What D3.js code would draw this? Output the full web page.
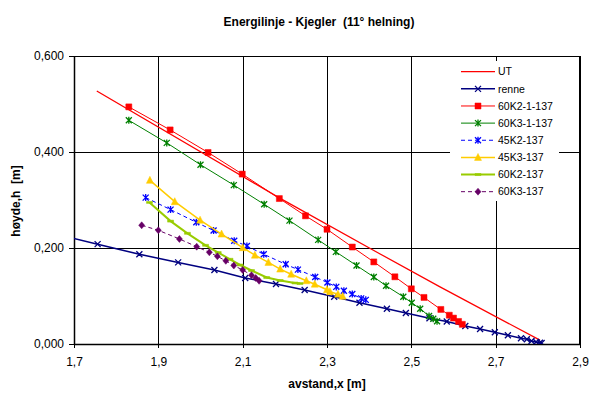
<!DOCTYPE html>
<html><head><meta charset="utf-8">
<script src="https://cdn.jsdelivr.net/npm/d3@7"></script>
<style>
body{margin:0;background:#fff;}
text{font-family:"Liberation Sans",Arial,sans-serif;white-space:pre;}
</style></head>
<body>
<svg id="c" width="591" height="394"></svg>
<script>
// ---------- data ----------
const title = "Energilinje - Kjegler  (11° helning)";
const xTitle = "avstand,x [m]";
const yTitle = "høyde,h  [m]";
const xTicks = [1.7, 1.9, 2.1, 2.3, 2.5, 2.7, 2.9];
const yTicks = [0, 0.2, 0.4, 0.6];
const seriesNames = ["UT", "renne", "60K2-1-137", "60K3-1-137", "45K2-137", "45K3-137", "60K2-137", "60K3-137"];

const utX = [1.754, 2.189, 2.426, 2.568, 2.805];
const utY = [0.527, 0.3035, 0.1875, 0.119, 0.008];

const renneX = [1.65, 1.756, 1.855, 1.947, 2.033, 2.106, 2.179, 2.247, 2.317, 2.377, 2.442, 2.487, 2.543, 2.584, 2.628, 2.663, 2.698, 2.729, 2.760, 2.774, 2.785, 2.796, 2.805, 2.809];
const renneY = [0.230, 0.208, 0.187, 0.170, 0.154, 0.1375, 0.125, 0.1125, 0.0985, 0.086, 0.0733, 0.0646, 0.0535, 0.0469, 0.0375, 0.0313, 0.0244, 0.0181, 0.0119, 0.0098, 0.0063, 0.0042, 0.0027, 0.0021];

const k2a1X = [1.830, 1.928, 2.018, 2.099, 2.187, 2.249, 2.300, 2.360, 2.411, 2.461, 2.500, 2.530, 2.570, 2.590, 2.600, 2.612, 2.621];
const k2a1Y = [0.494, 0.446, 0.399, 0.354, 0.303, 0.267, 0.239, 0.202, 0.171, 0.140, 0.115, 0.097, 0.072, 0.060, 0.054, 0.047, 0.041];

const k3a1X = [1.830, 1.920, 2.000, 2.079, 2.151, 2.211, 2.279, 2.321, 2.370, 2.411, 2.440, 2.481, 2.501, 2.521, 2.542, 2.552, 2.561];
const k3a1Y = [0.466, 0.419, 0.3735, 0.331, 0.291, 0.257, 0.217, 0.192, 0.1635, 0.1396, 0.1213, 0.0985, 0.0858, 0.0735, 0.0583, 0.0527, 0.0475];

const k45k2X = [1.870, 1.929, 1.990, 2.031, 2.080, 2.110, 2.150, 2.202, 2.231, 2.272, 2.301, 2.322, 2.340, 2.360, 2.381, 2.392];
const k45k2Y = [0.305, 0.280, 0.2535, 0.2365, 0.215, 0.204, 0.187, 0.166, 0.155, 0.1396, 0.128, 0.119, 0.111, 0.104, 0.095, 0.092];

const k45k3X = [1.880, 1.939, 1.999, 2.050, 2.100, 2.129, 2.161, 2.189, 2.215, 2.251, 2.271, 2.300, 2.307, 2.326, 2.337];
const k45k3Y = [0.341, 0.2965, 0.258, 0.229, 0.2006, 0.185, 0.170, 0.156, 0.1454, 0.1317, 0.1246, 0.1131, 0.109, 0.1038, 0.0996];

const k60k2X = [1.879, 1.929, 1.969, 2.012, 2.042, 2.070, 2.094, 2.121, 2.157, 2.189, 2.224, 2.236];
const k60k2Y = [0.295, 0.256, 0.2306, 0.2056, 0.1906, 0.1765, 0.1646, 0.1531, 0.1385, 0.1323, 0.1271, 0.126];

const k60k3X = [1.8605, 1.900, 1.950, 1.991, 2.021, 2.040, 2.060, 2.079, 2.100, 2.121, 2.131, 2.139];
const k60k3Y = [0.2473, 0.2369, 0.2188, 0.2027, 0.191, 0.1827, 0.1733, 0.1635, 0.1542, 0.1433, 0.1375, 0.1317];

// ---------- chart ----------
const svg = d3.select("#c");
const X0 = 74, X1 = 580, Y0 = 344, Y1 = 56;
const x = d3.scaleLinear().domain([1.7, 2.9]).range([X0, X1]);
const y = d3.scaleLinear().domain([0, 0.6]).range([Y0, Y1]);
const fmtY = d => d3.format(".3f")(d).replace(".", ",");
const fmtX = d => d3.format(".1f")(d).replace(".", ",");

svg.append("defs").append("clipPath").attr("id", "pc")
  .append("rect").attr("x", X0).attr("y", Y1).attr("width", X1 - X0).attr("height", Y0 - Y1);

// gridlines
const gx = svg.append("g").attr("transform", `translate(0,${Y0})`)
  .call(d3.axisBottom(x).tickValues(xTicks.slice(1)).tickSize(-(Y0 - Y1)).tickFormat(""));
gx.select(".domain").remove();
gx.selectAll("line").attr("stroke", "#000").attr("shape-rendering", "crispEdges");
const gy = svg.append("g").attr("transform", `translate(${X0},0)`)
  .call(d3.axisLeft(y).tickValues(yTicks.slice(1)).tickSize(-(X1 - X0)).tickFormat(""));
gy.select(".domain").remove();
gy.selectAll("line").attr("stroke", "#000").attr("shape-rendering", "crispEdges");

// axes
const ax = svg.append("g").attr("transform", `translate(0,${Y0})`)
  .call(d3.axisBottom(x).tickValues(xTicks).tickSize(4).tickSizeOuter(0).tickFormat(fmtX));
ax.select(".domain").attr("stroke", "#000").attr("stroke-width", 1.5);
ax.selectAll("line").attr("stroke", "#000").attr("shape-rendering", "crispEdges");
ax.selectAll("text").attr("font-size", 12).attr("fill", "#000").attr("dy", "0.71em").attr("y", 13);
const ay = svg.append("g").attr("transform", `translate(${X0},0)`)
  .call(d3.axisLeft(y).tickValues(yTicks).tickSize(5).tickSizeOuter(0).tickFormat(fmtY));
ay.select(".domain").attr("stroke", "#000").attr("stroke-width", 1.5);
ay.selectAll("line").attr("stroke", "#000").attr("shape-rendering", "crispEdges");
ay.selectAll("text").attr("font-size", 12).attr("fill", "#000").attr("x", -10);

// markers
function markerPath(type, s) {
  const h = s / 2;
  switch (type) {
    case "x": return `M${-h},${-h}L${h},${h}M${-h},${h}L${h},${-h}`;
    case "star": return `M${-h},${-h}L${h},${h}M${-h},${h}L${h},${-h}M0,${-h - 0.5}L0,${h + 0.5}`;
    case "square": return `M${-h},${-h}H${h}V${h}H${-h}Z`;
    case "triangle": return `M0,${-h - 1}L${h + 0.5},${h}L${-h - 0.5},${h}Z`;
    case "dash": return `M${-h},-1H${h}V1H${-h}Z`;
    case "diamond": return `M0,${-h - 0.5}L${h},0L0,${h + 0.5}L${-h},0Z`;
  }
  return "";
}

const series = [
  {name: seriesNames[0], xs: utX, ys: utY, color: "#FF0000", w: 1.3, dash: null, marker: null},
  {name: seriesNames[1], xs: renneX, ys: renneY, color: "#000080", w: 1.5, dash: null, marker: "x", mfill: false, ms: 6},
  {name: seriesNames[2], xs: k2a1X, ys: k2a1Y, color: "#FF0000", w: 1, dash: null, marker: "square", mfill: true, ms: 6},
  {name: seriesNames[3], xs: k3a1X, ys: k3a1Y, color: "#008000", w: 1, dash: null, marker: "star", mfill: false, ms: 6},
  {name: seriesNames[4], xs: k45k2X, ys: k45k2Y, color: "#0000FF", w: 1, dash: "4,3", marker: "star", mfill: false, ms: 6},
  {name: seriesNames[5], xs: k45k3X, ys: k45k3Y, color: "#FFCC00", w: 1.5, dash: null, marker: "triangle", mfill: true, ms: 6},
  {name: seriesNames[6], xs: k60k2X, ys: k60k2Y, color: "#99CC00", w: 2, dash: null, marker: "dash", mfill: true, ms: 6},
  {name: seriesNames[7], xs: k60k3X, ys: k60k3Y, color: "#660066", w: 1, dash: "4,3", marker: "diamond", mfill: true, ms: 6}
];

const plot = svg.append("g").attr("clip-path", "url(#pc)");
const line = d3.line().x(d => x(d[0])).y(d => y(d[1]));
series.forEach(s => {
  const pts = s.xs.map((v, i) => [v, s.ys[i]]);
  plot.append("path").datum(pts).attr("d", line).attr("fill", "none")
    .attr("stroke", s.color).attr("stroke-width", s.w)
    .attr("stroke-dasharray", s.dash);
  if (s.marker) {
    plot.selectAll(null).data(pts).enter().append("path")
      .attr("transform", d => `translate(${x(d[0])},${y(d[1])})`)
      .attr("d", markerPath(s.marker, s.ms))
      .attr("fill", s.mfill ? s.color : "none")
      .attr("stroke", s.color).attr("stroke-width", s.mfill ? 0.5 : 1.3);
  }
});

// plot border (top/right)
svg.append("path").attr("d", `M${X0},${Y1 + 0.5}H${X1 - 0.5}V${Y0}`)
  .attr("fill", "none").attr("stroke", "#000").attr("stroke-width", 1);

// legend
const lg = svg.append("g");
lg.append("rect").attr("x", 450).attr("y", 61).attr("width", 109).attr("height", 140).attr("fill", "#fff");
series.forEach((s, i) => {
  const cy = 71.7 + i * 17.14;
  lg.append("line").attr("x1", 461).attr("x2", 495).attr("y1", cy).attr("y2", cy)
    .attr("stroke", s.color).attr("stroke-width", s.w).attr("stroke-dasharray", s.dash);
  if (s.marker) {
    lg.append("path").attr("transform", `translate(478,${cy})`)
      .attr("d", markerPath(s.marker, s.ms))
      .attr("fill", s.mfill ? s.color : "none")
      .attr("stroke", s.color).attr("stroke-width", s.mfill ? 0.5 : 1.3);
  }
  lg.append("text").attr("x", 498).attr("y", cy).attr("dy", "0.35em")
    .attr("font-size", 10.5).attr("fill", "#000").text(s.name);
});

// titles
svg.append("text").attr("x", 319).attr("y", 26).attr("text-anchor", "middle")
  .attr("font-size", 12).attr("font-weight", "bold").text(title);
svg.append("text").attr("x", 327).attr("y", 388).attr("text-anchor", "middle")
  .attr("font-size", 12).attr("font-weight", "bold").text(xTitle);
svg.append("text").attr("transform", "translate(20,201) rotate(-90)").attr("text-anchor", "middle")
  .attr("font-size", 12).attr("font-weight", "bold").text(yTitle);
</script>
</body></html>
